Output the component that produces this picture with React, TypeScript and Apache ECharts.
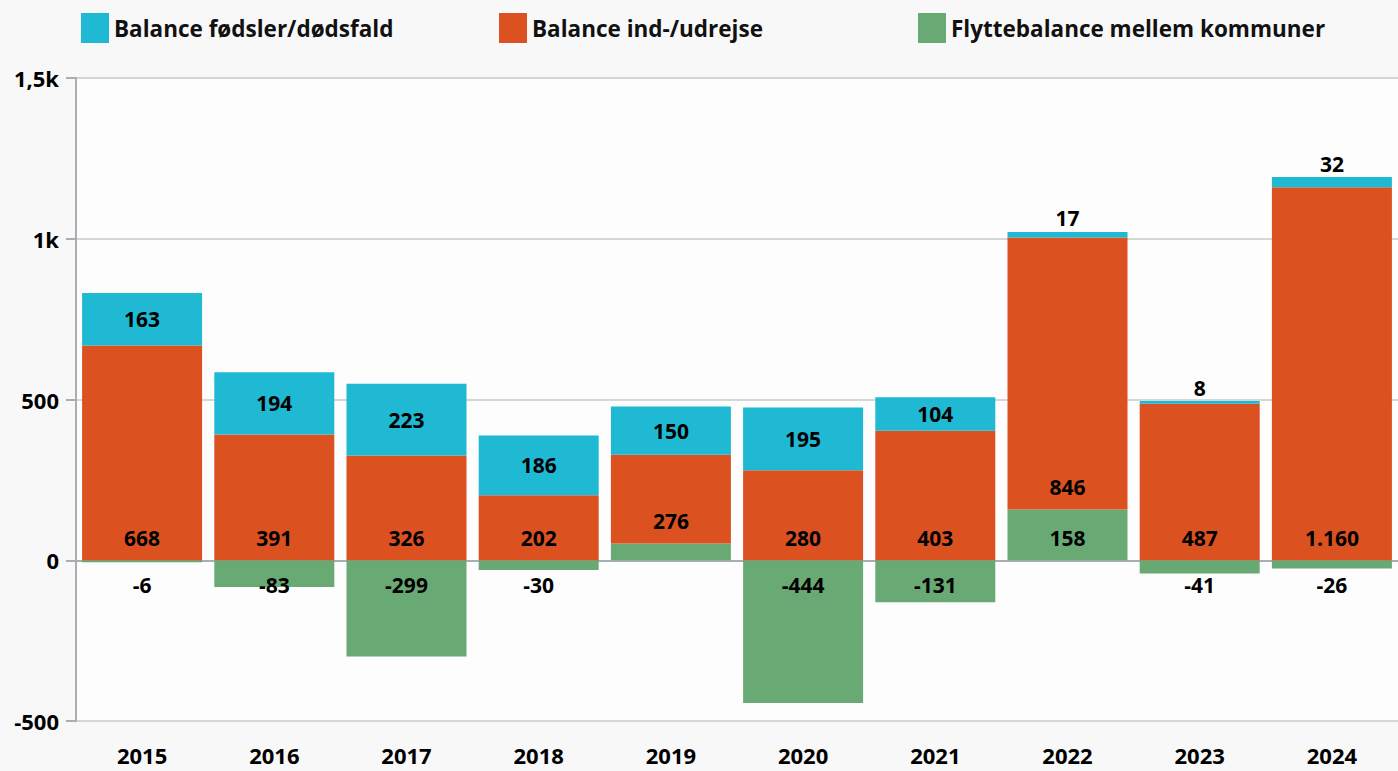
import React, { useEffect, useRef } from "react";
import * as echarts from "echarts";

const categories = ["2015", "2016", "2017", "2018", "2019", "2020", "2021", "2022", "2023", "2024"];
const births = [163, 194, 223, 186, 150, 195, 104, 17, 8, 32];
const migration = [668, 391, 326, 202, 276, 280, 403, 846, 487, 1160];
const moves = [-6, -83, -299, -30, 52, -444, -131, 158, -41, -26];
const seriesNames = ["Balance fødsler/dødsfald", "Balance ind-/udrejse", "Flyttebalance mellem kommuner"];
const colors = ["#1fb9d4", "#dc5120", "#69aa74"];

const FONT = "'Open Sans', 'Noto Sans', sans-serif";

function fmt(v: number): string {
  const s = String(Math.abs(v)).replace(/\B(?=(\d{3})+(?!\d))/g, ".");
  return v < 0 ? "-" + s : s;
}

const labelBase = {
  show: true,
  color: "#000",
  fontFamily: FONT,
  fontWeight: "bold" as const,
  fontSize: 21,
  formatter: (p: any) => fmt(p.value),
};

export default function App() {
  const ref = useRef<HTMLDivElement>(null);
  useEffect(() => {
    if (!ref.current) return;
    const chart = echarts.init(ref.current, undefined, { renderer: "svg" });
    const legendCommon = {
      top: 13,
      padding: 0,
      icon: "rect",
      itemWidth: 28,
      itemHeight: 30,
      selectedMode: false,
      textStyle: { fontFamily: FONT, fontWeight: "bold", fontSize: 22.5, color: "#111" },
    };
    chart.setOption({
      animation: false,
      backgroundColor: "#f8f8f8",
      textStyle: { fontFamily: FONT },
      legend: [
        { ...legendCommon, left: 81, data: [seriesNames[0]] },
        { ...legendCommon, left: 499, data: [seriesNames[1]] },
        { ...legendCommon, left: 918, data: [seriesNames[2]] },
      ],
      grid: {
        left: 76,
        right: -4,
        top: 78,
        bottom: 50,
        show: true,
        backgroundColor: "#fdfdfd",
        borderWidth: 0,
        containLabel: false,
      },
      xAxis: {
        type: "category",
        data: categories,
        offset: 7,
        axisLine: { lineStyle: { color: "#a9aeb4", width: 2 } },
        axisTick: { alignWithLabel: true, length: 11, lineStyle: { color: "#a9aeb4", width: 2 } },
        axisLabel: { color: "#000", fontFamily: FONT, fontWeight: "bold", fontSize: 22, margin: 15, lineHeight: 24 },
      },
      yAxis: {
        type: "value",
        min: -500,
        max: 1500,
        interval: 500,
        axisLine: { show: true, lineStyle: { color: "#a9aeb4", width: 2 } },
        axisTick: { show: true, length: 10, lineStyle: { color: "#a9aeb4", width: 2 } },
        splitLine: { lineStyle: { color: "#c9c9c9", width: 1.5 } },
        axisLabel: {
          color: "#000",
          fontFamily: FONT,
          fontWeight: "bold",
          fontSize: 22,
          margin: 17,
          formatter: (v: number) => (v === 1500 ? "1,5k" : v === 1000 ? "1k" : String(v)),
        },
      },
      series: [
        {
          name: seriesNames[2],
          type: "bar",
          stack: "total",
          barWidth: 120,
          itemStyle: { color: colors[2] },
          data: moves.map((v) => ({
            value: v,
            label:
              v < 0
                ? { ...labelBase, position: "insideTop", distance: 14 }
                : v < 100
                ? { show: false }
                : { ...labelBase, position: "insideBottom", distance: 12 },
          })),
        },
        {
          name: seriesNames[1],
          type: "bar",
          stack: "total",
          barWidth: 120,
          itemStyle: { color: colors[1] },
          label: { ...labelBase, position: "insideBottom", distance: 12 },
          data: migration,
        },
        {
          name: seriesNames[0],
          type: "bar",
          stack: "total",
          barWidth: 120,
          itemStyle: { color: colors[0] },
          data: births.map((v) => ({
            value: v,
            label: v < 50 ? { ...labelBase, position: "top", distance: 3 } : { ...labelBase, position: "inside" },
          })),
        },
      ],
    });
    return () => chart.dispose();
  }, []);
  return <div ref={ref} style={{ position: "fixed", left: 0, top: 0, width: 1398, height: 771 }} />;
}
